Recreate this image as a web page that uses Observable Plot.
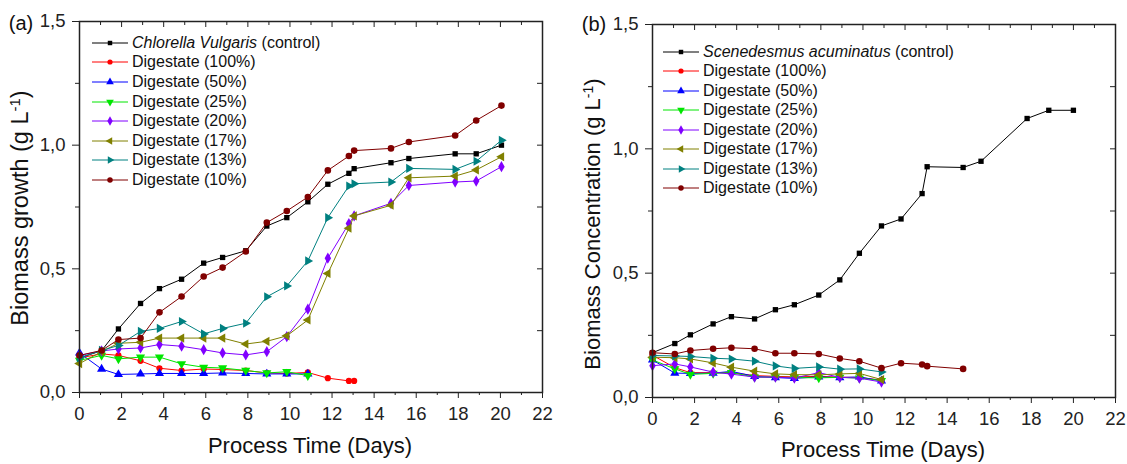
<!DOCTYPE html>
<html><head><meta charset="utf-8">
<script src="https://cdn.jsdelivr.net/npm/d3@7"></script>
<script src="https://cdn.jsdelivr.net/npm/@observablehq/plot@0.6"></script>
<style>
body{margin:0;background:#fff;font-family:"Liberation Sans",Arial,Helvetica,sans-serif;}
#wrap{position:relative;width:1127px;height:464px;overflow:hidden;background:#fff}
.abs{position:absolute;white-space:nowrap;color:#111;line-height:1}
.plot{position:absolute;top:0}
.row{position:absolute;display:flex;align-items:center;height:20px;font-size:16px;white-space:nowrap;color:#111}
.row svg{display:block;margin-right:4px}
</style></head>
<body><div id="wrap"></div>
<script>
// ---------- data: panel (a) ----------
const daysA = [0, 1.05, 1.85, 2.9, 3.8, 4.85, 5.9, 6.8, 7.9, 8.9, 9.85, 10.85, 11.8, 12.8, 13.05, 14.8, 15.65, 17.85, 18.85, 20.05];
const aControl = [0.14, 0.169, 0.257, 0.36, 0.42, 0.458, 0.523, 0.546, 0.573, 0.673, 0.707, 0.771, 0.842, 0.886, 0.905, 0.929, 0.946, 0.965, 0.965, 1.0];
const aD100 = [0.14, 0.156, 0.15, 0.128, 0.098, 0.089, 0.095, 0.093, 0.089, 0.079, 0.077, 0.081, 0.058, 0.047, 0.047];
const aD50 = [0.16, 0.095, 0.073, 0.075, 0.077, 0.077, 0.077, 0.079, 0.077, 0.075, 0.075, 0.075];
const aD25 = [0.13, 0.15, 0.136, 0.143, 0.143, 0.116, 0.102, 0.099, 0.089, 0.079, 0.084, 0.068];
const aD20 = [0.15, 0.168, 0.176, 0.18, 0.194, 0.187, 0.173, 0.16, 0.152, 0.165, 0.226, 0.337, 0.543, 0.683, 0.714, 0.765, 0.837, 0.851, 0.855, 0.913];
const aD17 = [0.117, 0.165, 0.199, 0.203, 0.22, 0.22, 0.22, 0.22, 0.196, 0.207, 0.229, 0.293, 0.481, 0.664, 0.714, 0.757, 0.868, 0.875, 0.9, 0.953];
const aD13 = [0.14, 0.17, 0.19, 0.247, 0.259, 0.287, 0.237, 0.259, 0.28, 0.387, 0.431, 0.532, 0.707, 0.835, 0.844, 0.851, 0.906, 0.902, 0.935, 1.02];
const aD10 = [0.15, 0.17, 0.214, 0.22, 0.324, 0.388, 0.469, 0.505, 0.57, 0.687, 0.734, 0.79, 0.898, 0.956, 0.978, 0.987, 1.013, 1.039, 1.1, 1.16];

// ---------- data: panel (b) ----------
const daysB = [0, 1.06, 1.8, 2.88, 3.75, 4.85, 5.84, 6.74, 7.9, 8.9, 9.83, 10.88, 11.81, 12.81, 13.05, 14.76, 15.61, 17.8, 18.83, 20.0];
const bControl = [0.18, 0.217, 0.252, 0.296, 0.325, 0.316, 0.353, 0.373, 0.412, 0.473, 0.58, 0.69, 0.718, 0.82, 0.928, 0.925, 0.95, 1.122, 1.155, 1.155];
const bD100 = [0.17, 0.12, 0.1, 0.1, 0.1, 0.088, 0.085, 0.083, 0.085, 0.082, 0.08, 0.07];
const bD50 = [0.151, 0.098, 0.097, 0.098, 0.105, 0.085, 0.08, 0.077, 0.083, 0.08, 0.083, 0.067];
const bD25 = [0.151, 0.115, 0.093, 0.097, 0.1, 0.082, 0.082, 0.08, 0.079, 0.081, 0.078, 0.068];
const bD20 = [0.128, 0.135, 0.123, 0.102, 0.094, 0.082, 0.082, 0.078, 0.1, 0.081, 0.078, 0.062];
const bD17 = [0.162, 0.16, 0.155, 0.139, 0.122, 0.106, 0.095, 0.092, 0.091, 0.095, 0.097, 0.072];
const bD13 = [0.169, 0.167, 0.165, 0.158, 0.155, 0.146, 0.127, 0.117, 0.123, 0.114, 0.115, 0.103];
const bD10 = [0.18, 0.175, 0.189, 0.196, 0.2, 0.196, 0.178, 0.178, 0.175, 0.157, 0.146, 0.118, 0.138, 0.133, 0.126, 0.115];

// ---------- labels & ticks ----------
const seriesNames = ["control", "Digestate (100%)", "Digestate (50%)", "Digestate (25%)", "Digestate (20%)", "Digestate (17%)", "Digestate (13%)", "Digestate (10%)"];
const seriesColors = ["#000000", "#ff0000", "#0000ff", "#00e600", "#8000ff", "#808000", "#008080", "#800000"];
const xMajor = [0, 2, 4, 6, 8, 10, 12, 14, 16, 18, 20, 22];
const xMinor = [1, 3, 5, 7, 9, 11, 13, 15, 17, 19, 21];
const yMajor = [0, 0.5, 1.0, 1.5];
const yMinor = [0.25, 0.75, 1.25];

// ---------- symbols ----------
const s3 = Math.sqrt(3);
const triDown = {draw(c, size){ const y = -Math.sqrt(size/(s3*3)); c.moveTo(0,-2*y); c.lineTo(-s3*y, y); c.lineTo(s3*y, y); c.closePath(); }};
const triLeft = {draw(c, size){ const y = -Math.sqrt(size/(s3*3)); c.moveTo(2*y,0); c.lineTo(-y,-s3*y); c.lineTo(-y,s3*y); c.closePath(); }};
const triRight = {draw(c, size){ const y = -Math.sqrt(size/(s3*3)); c.moveTo(-2*y,0); c.lineTo(y,-s3*y); c.lineTo(y,s3*y); c.closePath(); }};
const symbols = [d3.symbolSquare, d3.symbolCircle, d3.symbolTriangle, triDown, d3.symbolDiamond, triLeft, triRight, d3.symbolCircle];
const radii = [3, 3.1, 3.4, 3.4, 3.4, 3.4, 3.4, 3.3];

const axisColor = "#222";
const fmt = d => d.toFixed(1).replace(".", ",");

function buildPanel(days, ys, m, W){
  const H = 464;
  const pw = W - m.left - m.right, ph = H - m.top - m.bottom;
  const marks = [];
  ys.forEach((arr, k) => {
    const data = arr.map((v, i) => ({x: days[i], y: v}));
    marks.push(Plot.line(data, {x: "x", y: "y", stroke: seriesColors[k], strokeWidth: 1}));
    marks.push(Plot.dot(data, {x: "x", y: "y", fill: seriesColors[k], stroke: "none", symbol: symbols[k], r: radii[k]}));
  });
  marks.push(
    Plot.axisX(xMajor, {anchor: "bottom", tickSize: 6, tickPadding: 8, label: null, color: axisColor, fontSize: 18.5}),
    Plot.axisX(xMinor, {anchor: "bottom", tickSize: 3, tickFormat: () => "", label: null, color: axisColor}),
    Plot.axisY(yMajor, {anchor: "left", tickSize: 7, tickPadding: 7, tickFormat: fmt, label: null, color: axisColor, fontSize: 18.5}),
    Plot.axisY(yMinor, {anchor: "left", tickSize: 4, tickFormat: () => "", label: null, color: axisColor}),
    Plot.ruleX(xMajor, {x: d => d, insetBottom: ph - 6, stroke: axisColor, strokeWidth: 1}),
    Plot.ruleX(xMinor, {x: d => d, insetBottom: ph - 4, stroke: axisColor, strokeWidth: 1}),
    Plot.ruleY(yMajor.concat(yMinor), {y: d => d, insetLeft: pw - 5, stroke: axisColor, strokeWidth: 1}),
    Plot.frame({stroke: axisColor, strokeWidth: 1.5})
  );
  return Plot.plot({
    width: W, height: H,
    marginLeft: m.left, marginRight: m.right, marginTop: m.top, marginBottom: m.bottom,
    x: {domain: [0, 22]},
    y: {domain: [0, 1.5]},
    style: {background: "transparent", fontFamily: '"Liberation Sans", Arial, sans-serif', fontSize: "18.5px", color: "#111"},
    marks
  });
}

const wrap = document.getElementById("wrap");
const pA = buildPanel(daysA, [aControl, aD100, aD50, aD25, aD20, aD17, aD13, aD10], {left: 79, right: 21, top: 21, bottom: 72}, 563);
pA.classList.add("plot"); pA.style.left = "0px"; wrap.appendChild(pA);
const pB = buildPanel(daysB, [bControl, bD100, bD50, bD25, bD20, bD17, bD13, bD10], {left: 89, right: 12, top: 24, bottom: 67}, 564);
pB.classList.add("plot"); pB.style.left = "563px"; wrap.appendChild(pB);

function text(html, x, y, size, rotate){
  const d = document.createElement("div");
  d.className = "abs";
  d.innerHTML = html;
  d.style.left = x + "px"; d.style.top = y + "px";
  d.style.fontSize = size + "px";
  d.style.transform = "translate(-50%,-50%)" + (rotate ? " rotate(-90deg)" : "");
  wrap.appendChild(d);
}
text("(a)", 21, 23, 20);
text("(b)", 594, 24, 20);
text("Process Time (Days)", 310, 446, 22);
text("Process Time (Days)", 883, 450, 22);
text('Biomass growth (g L<sup style="font-size:15px;vertical-align:8px">-1</sup>)', 20, 208, 23.5, true);
text('Biomass Concentration (g L<sup style="font-size:14px;vertical-align:7px">-1</sup>)', 592, 224, 22, true);

function legend(firstLabel, x0, y0, step){
  seriesNames.forEach((name, k) => {
    const row = document.createElement("div");
    row.className = "row";
    row.style.left = x0 + "px";
    row.style.top = (y0 + k*step - 10) + "px";
    const svg = d3.create("svg").attr("width", 36).attr("height", 14);
    svg.append("line").attr("x1", 0).attr("x2", 36).attr("y1", 7).attr("y2", 7).attr("stroke", seriesColors[k]).attr("stroke-width", 1);
    svg.append("path").attr("transform", "translate(18,7)").attr("fill", seriesColors[k])
      .attr("d", d3.symbol().type(symbols[k]).size(Math.PI * radii[k] * radii[k] * 0.7)());
    row.appendChild(svg.node());
    const t = document.createElement("span");
    t.innerHTML = k === 0 ? firstLabel : name;
    row.appendChild(t);
    wrap.appendChild(row);
  });
}
legend("<i>Chlorella Vulgaris</i> (control)", 92, 42.7, 19.6);
legend("<i>Scenedesmus acuminatus</i> (control)", 663, 51.7, 19.5);
</script>
</body></html>
